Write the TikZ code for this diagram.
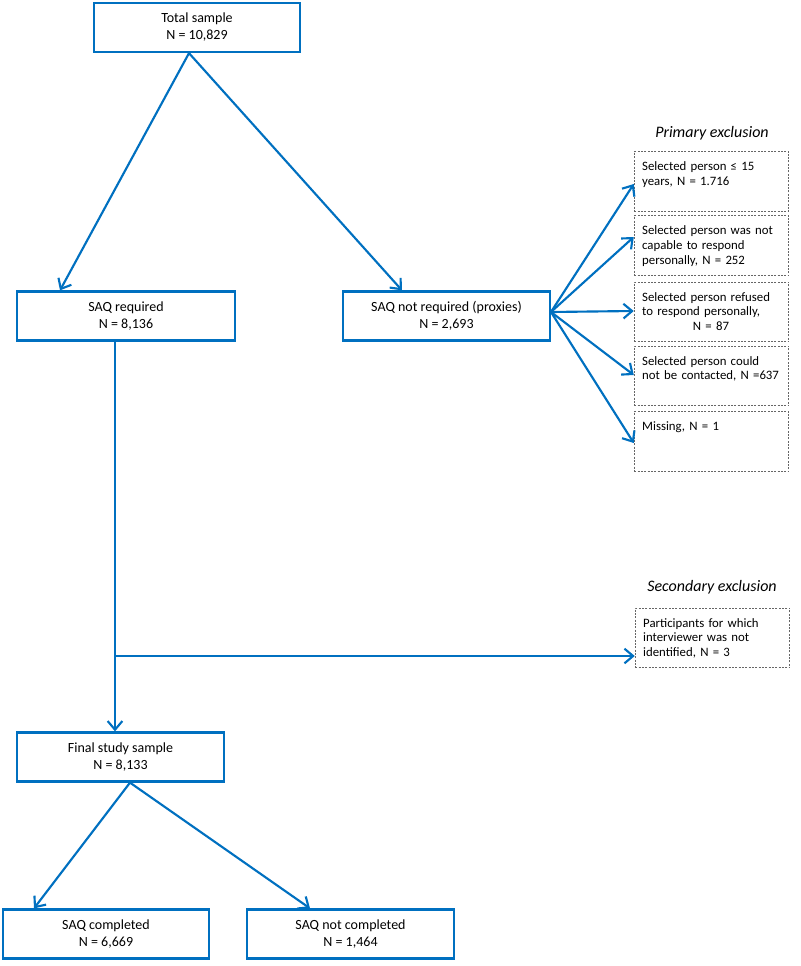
\documentclass[tikz,border=0pt]{standalone}
\usepackage{fontspec}
\setmainfont{Carlito}
\usetikzlibrary{arrows.meta, calc}
\definecolor{flowblue}{RGB}{0,112,192}
\tikzset{>={Straight Barb[length=6.5pt,width=11pt]}}
\tikzset{sample/.style = {draw=flowblue, line width=1.7pt, minimum height=36.75pt, align=center, font=\fontsize{10.5}{12.75}\selectfont}}
\tikzset{excl/.style = {draw=black!60, line width=0.6pt, dash pattern=on 1.5pt off 1pt, minimum width=116pt, text width=104pt, inner xsep=6pt, inner ysep=5pt, text height=9pt, text depth=25.5pt, align=left, font=\fontsize{9.6}{11.2}\selectfont}}
\tikzset{flow/.style = {->, draw=flowblue, line width=1.6pt}}
\tikzset{heading/.style = {font=\fontsize{12}{14}\selectfont\itshape}}

\begin{document}
\begin{tikzpicture}[x=0.75pt, y=-0.75pt]
		% Frame
		\useasboundingbox (0,0) rectangle (800,966);

		% Samples
		\node[sample, minimum width=154.5pt] (total) at (197,27.5) {Total sample\\N = 10,829};
		\node[sample, minimum width=163.5pt] (req) at (126,316) {SAQ required\\N = 8,136};
		\node[sample, minimum width=155pt] (notreq) at (446.5,316) {SAQ not required (proxies)\\N = 2,693};
		\node[sample, minimum width=155pt] (final) at (120.5,757) {Final study sample\\N = 8,133};
		\node[sample, minimum width=154.5pt] (compl) at (106,934) {SAQ completed\\N = 6,669};
		\node[sample, minimum width=155pt] (notcompl) at (350.5,934) {SAQ not completed\\N = 1,464};

		% Primary exclusion
		\node[heading] (prim) at (712,133) {Primary exclusion};
		\node[excl] (p1) at (711.5,181.5) {Selected person ≤ 15\\years, N = 1.716};
		\node[excl] (p2) at (711.5,245.5) {Selected person was not\\capable to respond\\personally, N = 252};
		\node[excl] (p3) at (711.5,312) {Selected person refused\\to respond personally,\\\hspace*{38pt}N = 87};
		\node[excl] (p4) at (711.5,376) {Selected person could\\\mbox{not be contacted, N =637}};
		\node[excl] (p5) at (711.5,441.5) {Missing, N = 1};

		% Secondary exclusion
		\node[heading] (sechead) at (712,587) {Secondary exclusion};
		\node[excl] (sec) at (712.5,638) {Participants for which\\interviewer was not\\identified, N = 3};

		% Arrows
		\draw[flow] ($(total.south)+(-8,0)$) -- ($(req.north)+(-66,0)$);
		\draw[flow] ($(total.south)+(-8,0)$) -- ($(notreq.north)+(-44.5,0)$);

		\coordinate (fan) at ($(notreq.east)+(0,-4)$);
		\draw[flow] (fan) -- ($(p1.west)+(0,2.5)$);
		\draw[flow] (fan) -- ($(p2.west)+(0,-8.5)$);
		\draw[flow] (fan) -- ($(p3.west)+(0,-1)$);
		\draw[flow] (fan) -- ($(p4.west)+(0,-1)$);
		\draw[flow] (fan) -- ($(p5.west)+(0,1.5)$);

		\coordinate (split) at (115,656);
		\draw[flow] (split |- req.south) -- (split |- final.north);
		\draw[flow] (split) -- (sec.west |- split);

		\draw[flow] ($(final.south)+(9.5,0)$) -- ($(compl.north)+(-72,0)$);
		\draw[flow] ($(final.south)+(9.5,0)$) -- ($(notcompl.north)+(-40.5,0)$);
\end{tikzpicture}
\end{document}
